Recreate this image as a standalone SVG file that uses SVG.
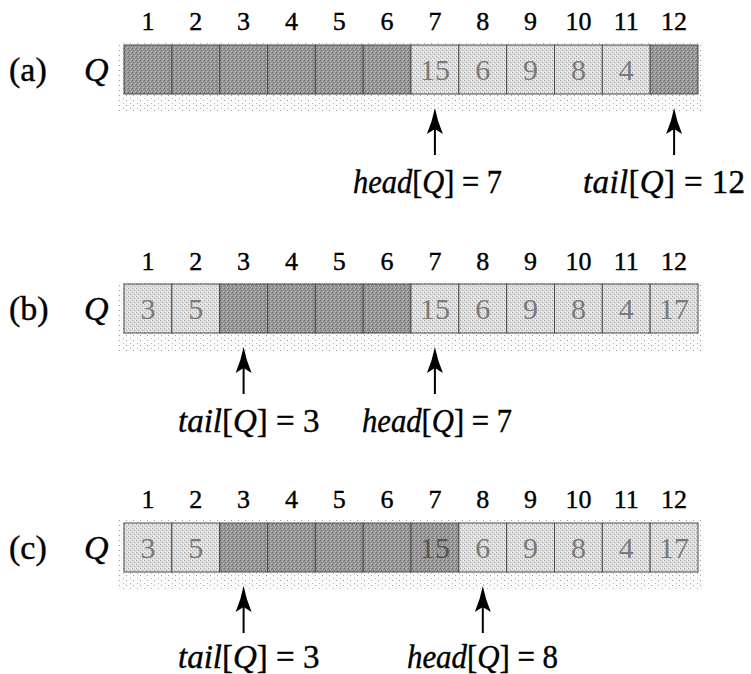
<svg xmlns="http://www.w3.org/2000/svg" width="751" height="674" viewBox="0 0 751 674">
<defs>
<pattern id="pDark" width="4" height="4" patternUnits="userSpaceOnUse">
<rect width="4" height="4" fill="#9a9a9a"/>
<rect x="0" y="0" width="1" height="1" fill="#6a6a6a"/>
<rect x="2" y="1" width="1" height="1" fill="#c0c0c0"/>
<rect x="1" y="2" width="1" height="1" fill="#727272"/>
<rect x="3" y="3" width="1" height="1" fill="#b8b8b8"/>
<rect x="3" y="1" width="1" height="1" fill="#7c7c7c"/>
</pattern>
<pattern id="pLight" width="4" height="4" patternUnits="userSpaceOnUse">
<rect width="4" height="4" fill="#dcdcdc"/>
<rect x="0" y="0" width="1" height="1" fill="#a8a8a8"/>
<rect x="2" y="2" width="1" height="1" fill="#b4b4b4"/>
<rect x="3" y="0" width="1" height="1" fill="#f6f6f6"/>
<rect x="1" y="3" width="1" height="1" fill="#f2f2f2"/>
</pattern>
<pattern id="pShadow" width="7" height="5" patternUnits="userSpaceOnUse">
<rect width="7" height="5" fill="#fafafa"/>
<rect x="0" y="0" width="1" height="1" fill="#a0a0a0"/>
<rect x="4" y="3" width="1" height="1" fill="#b8b8b8"/>
</pattern>
<path id="arrowHead" d="M0,0 Q2.5,13 8,26 L0,21 L-8,26 Q-2.5,13 0,0 Z"/>
</defs>
<style>
.dark{fill:url(#pDark);stroke:#4a4a4a;stroke-width:1}
.light{fill:url(#pLight);stroke:#4a4a4a;stroke-width:1}
.shadow{fill:url(#pShadow)}
.idx{font-family:"Liberation Serif",serif;font-size:26px;fill:#000;stroke:#000;stroke-width:0.4;text-anchor:middle}
.val{font-family:"Liberation Serif",serif;font-size:30px;fill:#7a7a7a;text-anchor:middle}
.valD{font-family:"Liberation Serif",serif;font-size:30px;fill:#555;text-anchor:middle}
.lbl{font-family:"Liberation Serif",serif;font-size:34px;fill:#000;stroke:#000;stroke-width:0.4}
.ptr{font-family:"Liberation Serif",serif;font-size:33px;fill:#000;stroke:#000;stroke-width:0.4}
.it{font-style:italic}
.stem{stroke:#000;stroke-width:2;fill:none}
.head{fill:#000}
</style>

<!-- Row (a) -->
<g id="rowA">
<text class="lbl" x="9" y="81">(a)</text>
<text class="lbl it" x="84" y="81">Q</text>
<g class="idx">
<text x="147.9" y="30">1</text><text x="195.8" y="30">2</text><text x="243.6" y="30">3</text><text x="291.4" y="30">4</text><text x="339.3" y="30">5</text><text x="387.1" y="30">6</text><text x="434.9" y="30">7</text><text x="482.8" y="30">8</text><text x="530.6" y="30">9</text><text x="578.4" y="30">10</text><text x="626.3" y="30">11</text><text x="674.1" y="30">12</text>
</g>
<rect class="shadow" x="118" y="42" width="586" height="70"/>
<g id="a1"><rect class="dark" x="124" y="45" width="47.83" height="49"/></g>
<g id="a2"><rect class="dark" x="171.83" y="45" width="47.83" height="49"/></g>
<g id="a3"><rect class="dark" x="219.67" y="45" width="47.83" height="49"/></g>
<g id="a4"><rect class="dark" x="267.5" y="45" width="47.83" height="49"/></g>
<g id="a5"><rect class="dark" x="315.33" y="45" width="47.83" height="49"/></g>
<g id="a6"><rect class="dark" x="363.17" y="45" width="47.83" height="49"/></g>
<g id="a7"><rect class="light" x="411" y="45" width="47.83" height="49"/><text class="val" x="434.9" y="80">15</text></g>
<g id="a8"><rect class="light" x="458.83" y="45" width="47.83" height="49"/><text class="val" x="482.8" y="80">6</text></g>
<g id="a9"><rect class="light" x="506.67" y="45" width="47.83" height="49"/><text class="val" x="530.6" y="80">9</text></g>
<g id="a10"><rect class="light" x="554.5" y="45" width="47.83" height="49"/><text class="val" x="578.4" y="80">8</text></g>
<g id="a11"><rect class="light" x="602.33" y="45" width="47.83" height="49"/><text class="val" x="626.3" y="80">4</text></g>
<g id="a12"><rect class="dark" x="650.17" y="45" width="47.83" height="49"/></g>
<g id="aHead"><text class="ptr" x="353" y="193" textLength="149" lengthAdjust="spacingAndGlyphs"><tspan class="it">head</tspan>[<tspan class="it">Q</tspan>] = 7</text></g>
<g id="aTail"><text class="ptr" x="583" y="193" textLength="162" lengthAdjust="spacing"><tspan class="it">tail</tspan>[<tspan class="it">Q</tspan>] = 12</text></g>
</g>

<!-- Row (b) -->
<g id="rowB">
<text class="lbl" x="9" y="320">(b)</text>
<text class="lbl it" x="84" y="320">Q</text>
<g class="idx">
<text x="147.9" y="270">1</text><text x="195.8" y="270">2</text><text x="243.6" y="270">3</text><text x="291.4" y="270">4</text><text x="339.3" y="270">5</text><text x="387.1" y="270">6</text><text x="434.9" y="270">7</text><text x="482.8" y="270">8</text><text x="530.6" y="270">9</text><text x="578.4" y="270">10</text><text x="626.3" y="270">11</text><text x="674.1" y="270">12</text>
</g>
<rect class="shadow" x="118" y="281" width="586" height="70"/>
<g id="b1"><rect class="light" x="124" y="284" width="47.83" height="49"/><text class="val" x="147.9" y="319">3</text></g>
<g id="b2"><rect class="light" x="171.83" y="284" width="47.83" height="49"/><text class="val" x="195.8" y="319">5</text></g>
<g id="b3"><rect class="dark" x="219.67" y="284" width="47.83" height="49"/></g>
<g id="b4"><rect class="dark" x="267.5" y="284" width="47.83" height="49"/></g>
<g id="b5"><rect class="dark" x="315.33" y="284" width="47.83" height="49"/></g>
<g id="b6"><rect class="dark" x="363.17" y="284" width="47.83" height="49"/></g>
<g id="b7"><rect class="light" x="411" y="284" width="47.83" height="49"/><text class="val" x="434.9" y="319">15</text></g>
<g id="b8"><rect class="light" x="458.83" y="284" width="47.83" height="49"/><text class="val" x="482.8" y="319">6</text></g>
<g id="b9"><rect class="light" x="506.67" y="284" width="47.83" height="49"/><text class="val" x="530.6" y="319">9</text></g>
<g id="b10"><rect class="light" x="554.5" y="284" width="47.83" height="49"/><text class="val" x="578.4" y="319">8</text></g>
<g id="b11"><rect class="light" x="602.33" y="284" width="47.83" height="49"/><text class="val" x="626.3" y="319">4</text></g>
<g id="b12"><rect class="light" x="650.17" y="284" width="47.83" height="49"/><text class="val" x="674.1" y="319">17</text></g>
<g id="bTail"><text class="ptr" x="178" y="432"><tspan class="it">tail</tspan>[<tspan class="it">Q</tspan>] = 3</text></g>
<g id="bHead"><text class="ptr" x="362" y="432" textLength="150" lengthAdjust="spacingAndGlyphs"><tspan class="it">head</tspan>[<tspan class="it">Q</tspan>] = 7</text></g>
</g>

<!-- Row (c) -->
<g id="rowC">
<text class="lbl" x="9" y="559">(c)</text>
<text class="lbl it" x="84" y="559">Q</text>
<g class="idx">
<text x="147.9" y="508">1</text><text x="195.8" y="508">2</text><text x="243.6" y="508">3</text><text x="291.4" y="508">4</text><text x="339.3" y="508">5</text><text x="387.1" y="508">6</text><text x="434.9" y="508">7</text><text x="482.8" y="508">8</text><text x="530.6" y="508">9</text><text x="578.4" y="508">10</text><text x="626.3" y="508">11</text><text x="674.1" y="508">12</text>
</g>
<rect class="shadow" x="118" y="520" width="586" height="70"/>
<g id="c1"><rect class="light" x="124" y="523" width="47.83" height="49"/><text class="val" x="147.9" y="558">3</text></g>
<g id="c2"><rect class="light" x="171.83" y="523" width="47.83" height="49"/><text class="val" x="195.8" y="558">5</text></g>
<g id="c3"><rect class="dark" x="219.67" y="523" width="47.83" height="49"/></g>
<g id="c4"><rect class="dark" x="267.5" y="523" width="47.83" height="49"/></g>
<g id="c5"><rect class="dark" x="315.33" y="523" width="47.83" height="49"/></g>
<g id="c6"><rect class="dark" x="363.17" y="523" width="47.83" height="49"/></g>
<g id="c7"><rect class="dark" x="411" y="523" width="47.83" height="49"/><text class="valD" x="434.9" y="558">15</text></g>
<g id="c8"><rect class="light" x="458.83" y="523" width="47.83" height="49"/><text class="val" x="482.8" y="558">6</text></g>
<g id="c9"><rect class="light" x="506.67" y="523" width="47.83" height="49"/><text class="val" x="530.6" y="558">9</text></g>
<g id="c10"><rect class="light" x="554.5" y="523" width="47.83" height="49"/><text class="val" x="578.4" y="558">8</text></g>
<g id="c11"><rect class="light" x="602.33" y="523" width="47.83" height="49"/><text class="val" x="626.3" y="558">4</text></g>
<g id="c12"><rect class="light" x="650.17" y="523" width="47.83" height="49"/><text class="val" x="674.1" y="558">17</text></g>
<g id="cTail"><text class="ptr" x="178" y="668"><tspan class="it">tail</tspan>[<tspan class="it">Q</tspan>] = 3</text></g>
<g id="cHead"><text class="ptr" x="407" y="668" textLength="151" lengthAdjust="spacingAndGlyphs"><tspan class="it">head</tspan>[<tspan class="it">Q</tspan>] = 8</text></g>
</g>

<!-- Connectors -->
<g id="connectors">
<line class="stem" x1="434.9" y1="128" x2="434.9" y2="155"/><use href="#arrowHead" class="head" x="434.9" y="108"/>
<line class="stem" x1="674.1" y1="128" x2="674.1" y2="155"/><use href="#arrowHead" class="head" x="674.1" y="108"/>
<line class="stem" x1="243.6" y1="367" x2="243.6" y2="394"/><use href="#arrowHead" class="head" x="243.6" y="347"/>
<line class="stem" x1="434.9" y1="367" x2="434.9" y2="394"/><use href="#arrowHead" class="head" x="434.9" y="347"/>
<line class="stem" x1="243.6" y1="606" x2="243.6" y2="633"/><use href="#arrowHead" class="head" x="243.6" y="586"/>
<line class="stem" x1="482.8" y1="606" x2="482.8" y2="633"/><use href="#arrowHead" class="head" x="482.8" y="586"/>
</g>
</svg>
